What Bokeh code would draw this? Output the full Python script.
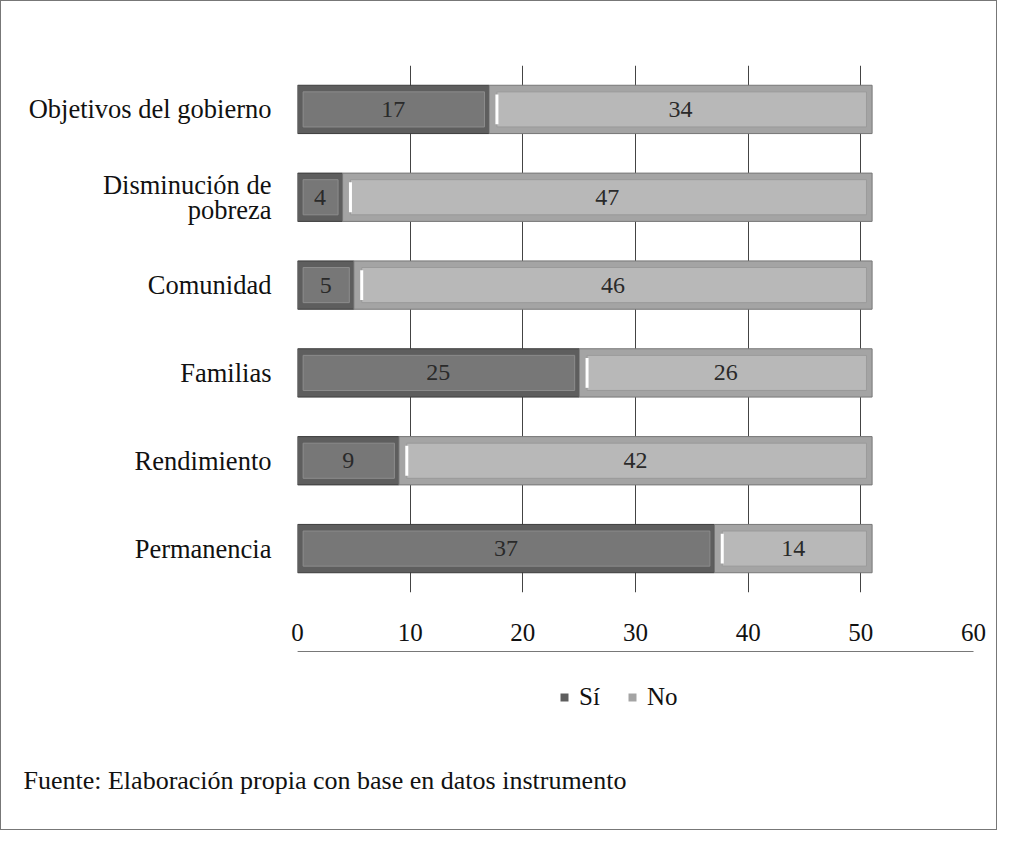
from bokeh.plotting import figure
from bokeh.layouts import column
from bokeh.models import Range1d, FactorRange, Legend, LegendItem, Title, ColumnDataSource, FixedTicker, LabelSet
from bokeh.core.properties import value
from bokeh.embed import file_html
from bokeh.resources import INLINE

categories = ["Permanencia", "Rendimiento", "Familias", "Comunidad",
              "Disminución de\npobreza", "Objetivos del gobierno"]
si = [37, 9, 25, 5, 4, 17]
no = [14, 42, 26, 46, 47, 34]
x_ticks = [0, 10, 20, 30, 40, 50, 60]
series_names = ["Sí", "No"]
source_note = "Fuente: Elaboración propia con base en datos instrumento"

FONT = "Liberation Serif"
W = 995
SI_FILL, SI_LINE = "#5e5e5e", "#3c3c3c"
NO_FILL, NO_LINE = "#a4a4a4", "#777777"

src = ColumnDataSource(dict(cat=categories, si=si, no=no,
                            si_mid=[s / 2 for s in si],
                            no_mid=[s + n / 2 for s, n in zip(si, no)],
                            tot=[s + n for s, n in zip(si, no)],
                            si_in_l=[0.5 for s in si],
                            si_in_r=[s - 0.4 for s in si],
                            no_in_l=[s + 0.7 for s in si],
                            no_in_r=[s + n - 0.5 for s, n in zip(si, no)],
                            y_lo=[(c, -0.17) for c in categories],
                            y_hi=[(c, 0.17) for c in categories],
                            si_lab=[str(v) for v in si], no_lab=[str(v) for v in no]))

p = figure(width=W, height=650, output_backend="svg", toolbar_location=None,
           x_range=Range1d(0, 60), y_range=FactorRange(*categories, range_padding=0),
           min_border_left=296, min_border_right=23, min_border_top=64, min_border_bottom=59)
p.outline_line_color = None
p.background_fill_color = "white"
p.border_fill_color = "white"

H_BAR = 0.55
p.hbar(y="cat", left=0, right="si", height=H_BAR, source=src,
       fill_color=SI_FILL, line_color=SI_LINE, line_width=1)
p.hbar(y="cat", left="si", right="tot", height=H_BAR, source=src,
       fill_color=NO_FILL, line_color=NO_LINE, line_width=1)
# bevel look: inner faces
p.hbar(y="cat", left="si_in_l", right="si_in_r", height=0.40, source=src,
       fill_color="#777777", line_color="#8c8c8c", line_width=1)
p.hbar(y="cat", left="no_in_l", right="no_in_r", height=0.40, source=src,
       fill_color="#b8b8b8", line_color="#9a9a9a", line_width=1)
p.segment(x0="no_in_l", x1="no_in_l", y0="y_lo", y1="y_hi", source=src,
          line_color="white", line_width=3)

for xcol, tcol in (("si_mid", "si_lab"), ("no_mid", "no_lab")):
    p.add_layout(LabelSet(x=xcol, y="cat", text=tcol, source=src,
                          text_font=value(FONT), text_font_size="24px", text_color="#2a2a2a",
                          text_align="center", text_baseline="middle"))

p.xaxis.ticker = FixedTicker(ticks=x_ticks)
p.xaxis.axis_line_color = None
p.xaxis.major_tick_line_color = None
p.xaxis.minor_tick_line_color = None
p.xaxis.major_label_standoff = 25
p.xaxis.major_label_text_font = FONT
p.xaxis.major_label_text_font_size = "25px"
p.xaxis.major_label_text_color = "#111111"

p.yaxis.axis_line_color = None
p.yaxis.major_tick_line_color = None
p.yaxis.minor_tick_line_color = None
p.yaxis.major_label_standoff = 20
p.yaxis.major_label_text_font = FONT
p.yaxis.major_label_text_font_size = "26.5px"
p.yaxis.major_label_text_color = "#111111"
p.yaxis.major_label_text_align = "right"
p.yaxis.major_label_text_line_height = 0.85

p.xgrid.grid_line_color = "#444444"
p.xgrid.grid_line_width = 1
p.ygrid.grid_line_color = None

# bottom strip: legend + source note (legend proxies have zero height, lie outside the ranges)
q = figure(width=W, height=178, output_backend="svg", toolbar_location=None,
           x_range=Range1d(0, 1), y_range=Range1d(0, 1),
           x_axis_location=None, y_axis_location=None,
           min_border_left=296, min_border_right=23, min_border_top=0, min_border_bottom=66)
q.outline_line_color = None
q.xgrid.grid_line_color = None
q.ygrid.grid_line_color = None
l_si = q.hbar(y="tot", left=0, right="si", height=0, source=src,
              fill_color=SI_FILL, line_color=None)
l_no = q.hbar(y="tot", left="si", right="tot", height=0, source=src,
              fill_color=NO_FILL, line_color=None)

legend = Legend(items=[LegendItem(label=series_names[0], renderers=[l_si], index=0),
                       LegendItem(label=series_names[1], renderers=[l_no], index=0)],
                orientation="horizontal", location=(262, 52),
                label_text_font=FONT, label_text_font_size="25px", label_text_color="#111111",
                glyph_width=10, glyph_height=10, spacing=27, label_standoff=10,
                label_width=21, background_fill_alpha=0, border_line_color=None,
                padding=2, margin=0)
q.add_layout(legend, "center")

q.add_layout(Title(text=source_note, align="left", offset=-274, standoff=0,
                   text_font=FONT, text_font_size="26px", text_font_style="normal",
                   text_color="#111111"), "below")

layout = column(p, q, spacing=0)
layout.styles = {"border": "1px solid #777"}

open("out.html", "w").write(file_html(layout, INLINE))
